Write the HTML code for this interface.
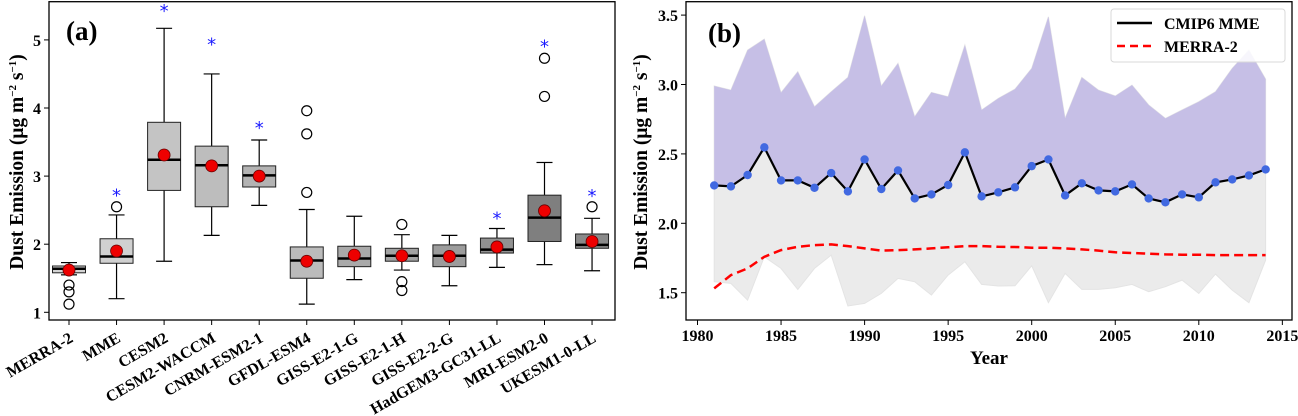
<!DOCTYPE html>
<html><head><meta charset="utf-8"><style>
html,body{margin:0;padding:0;background:#fff;}
svg{display:block;font-family:"Liberation Serif",serif;font-weight:bold;}
</style></head><body>
<svg id="fig" width="1298" height="416" viewBox="0 0 1298 416">
<g id="pa"></g>
<g id="pb"></g>
</svg>
<script>
// ---------- Panel (a) data ----------
const models = ["MERRA-2","MME","CESM2","CESM2-WACCM","CNRM-ESM2-1","GFDL-ESM4","GISS-E2-1-G","GISS-E2-1-H","GISS-E2-2-G","HadGEM3-GC31-LL","MRI-ESM2-0","UKESM1-0-LL"];
const whiskLo = [1.55,1.2,1.75,2.13,2.57,1.12,1.48,1.62,1.39,1.66,1.7,1.61];
const q1 = [1.58,1.72,2.79,2.55,2.84,1.5,1.67,1.75,1.67,1.87,2.04,1.94];
const medians = [1.64,1.82,3.24,3.16,3.01,1.76,1.79,1.83,1.83,1.92,2.39,1.99];
const q3 = [1.68,2.08,3.79,3.44,3.15,1.96,1.97,1.94,1.99,2.09,2.72,2.15];
const whiskHi = [1.73,2.43,5.17,4.5,3.53,2.51,2.41,2.14,2.13,2.23,3.2,2.38];
const means = [1.62,1.9,3.31,3.15,3.0,1.75,1.84,1.83,1.82,1.96,2.49,2.04];
const outliers = [[1.4,1.3,1.12],[2.55],[],[],[],[2.76,3.62,3.96],[],[2.29,1.45,1.32],[],[],[4.17,4.73],[2.55]];
const stars = [null,2.76,5.47,4.98,3.75,null,null,null,null,2.42,4.95,2.75];
const boxFill = ["#d4d4d4","#d0d0d0","#c4c4c4","#bdbdbd","#b3b3b3","#bbbbbb","#a9a9a9","#a2a2a2","#9c9c9c","#919191","#7f7f7f","#8a8a8a"];
const yTicksA = [1,2,3,4,5];

// ---------- Panel (b) data ----------
const years = [1981,1982,1983,1984,1985,1986,1987,1988,1989,1990,1991,1992,1993,1994,1995,1996,1997,1998,1999,2000,2001,2002,2003,2004,2005,2006,2007,2008,2009,2010,2011,2012,2013,2014];
const mme = [2.273,2.266,2.348,2.547,2.309,2.309,2.256,2.362,2.23,2.46,2.247,2.381,2.179,2.208,2.276,2.511,2.194,2.223,2.259,2.412,2.46,2.201,2.288,2.237,2.23,2.28,2.179,2.151,2.208,2.187,2.295,2.316,2.345,2.388];
const upper = [2.989,2.96,3.248,3.327,2.941,3.092,2.84,2.948,3.051,3.495,2.989,3.152,2.768,2.943,2.912,3.284,2.816,2.9,2.967,3.116,3.488,2.756,3.051,2.96,2.917,2.996,2.852,2.756,2.816,2.876,2.948,3.116,3.248,3.039];
const lower = [1.579,1.567,1.447,1.759,1.675,1.524,1.675,1.771,1.404,1.423,1.495,1.603,1.579,1.483,1.627,1.723,1.56,1.548,1.55,1.694,1.428,1.639,1.524,1.524,1.536,1.56,1.507,1.543,1.591,1.495,1.634,1.519,1.428,1.735];
const merra = [1.531,1.627,1.675,1.759,1.807,1.831,1.843,1.848,1.836,1.819,1.803,1.807,1.812,1.819,1.827,1.836,1.836,1.831,1.829,1.824,1.824,1.819,1.812,1.803,1.791,1.786,1.781,1.776,1.774,1.774,1.771,1.771,1.771,1.771];
const yTicksB = [1.5,2.0,2.5,3.0,3.5];
const xTicksB = [1980,1985,1990,1995,2000,2005,2010,2015];

const NS="http://www.w3.org/2000/svg";
function mk(parent,tag,attrs,text){const e=document.createElementNS(NS,tag);for(const k in attrs)e.setAttribute(k,attrs[k]);if(text!==undefined)e.textContent=text;parent.appendChild(e);return e;}
const TITLE='Dust Emission (μg m<tspan dy="-7" font-size="11">−2</tspan><tspan dy="7"> s</tspan><tspan dy="-7" font-size="11">−1</tspan><tspan dy="7">)</tspan>';

// ===== Panel A =====
const pa=document.getElementById('pa');
const AX0=49,AX1=615,AY0=1.7,AY1=320;
const ya=v=>312.3-(v-1)*68.1;
const xa=i=>69+i*47.55;
const bw=33;
yTicksA.forEach(t=>{
  const l=mk(pa,'line',{x1:AX0-5,x2:AX0,y1:ya(t),y2:ya(t),stroke:'#000','stroke-width':1});
  
  const tx=mk(pa,'text',{x:AX0-8,y:ya(t)+6,'text-anchor':'end','font-size':16},String(t));
  
});
models.forEach((m,i)=>{
  const g=mk(pa,'g',{});
  
  
  const cx=xa(i);
  mk(g,'line',{x1:cx,x2:cx,y1:ya(whiskHi[i]),y2:ya(q3[i]),stroke:'#000','stroke-width':1.2});
  mk(g,'line',{x1:cx,x2:cx,y1:ya(q1[i]),y2:ya(whiskLo[i]),stroke:'#000','stroke-width':1.2});
  mk(g,'line',{x1:cx-8,x2:cx+8,y1:ya(whiskHi[i]),y2:ya(whiskHi[i]),stroke:'#000','stroke-width':1.2});
  mk(g,'line',{x1:cx-8,x2:cx+8,y1:ya(whiskLo[i]),y2:ya(whiskLo[i]),stroke:'#000','stroke-width':1.2});
  mk(g,'rect',{x:cx-bw/2,y:ya(q3[i]),width:bw,height:ya(q1[i])-ya(q3[i]),fill:boxFill[i],stroke:'#222','stroke-width':1});
  mk(g,'line',{x1:cx-bw/2,x2:cx+bw/2,y1:ya(medians[i]),y2:ya(medians[i]),stroke:'#000','stroke-width':2.5});
  mk(g,'circle',{cx:cx,cy:ya(means[i]),r:6,fill:'#ee0000',stroke:'#600','stroke-width':0.8});
  outliers[i].forEach(o=>{
    const c=mk(g,'circle',{cx:cx,cy:ya(o),r:5,fill:'none',stroke:'#000','stroke-width':1.2});
    
  });
  if(stars[i]!==null){
    const s=mk(g,'text',{x:cx,y:ya(stars[i])+9,'text-anchor':'middle','font-size':18,fill:'#1a1aff','font-family':'"DejaVu Sans",sans-serif','font-weight':'normal'},'*');
    
  }
  const t=mk(pa,'line',{x1:cx,x2:cx,y1:AY1,y2:AY1+5,stroke:'#000','stroke-width':1});
  
  const lx=cx+5, ly=AY1+21;
  const lb=mk(pa,'text',{x:lx,y:ly,'text-anchor':'end','font-size':16,transform:`rotate(-30 ${lx} ${ly})`},m);
  
});
const fa=mk(pa,'rect',{x:AX0,y:AY0,width:AX1-AX0,height:AY1-AY0,fill:'none',stroke:'#000','stroke-width':1.3});

const la=mk(pa,'text',{x:66,y:40,'font-size':27},'(a)');

const yla=mk(pa,'text',{x:23,y:162,'text-anchor':'middle','font-size':19.5,transform:'rotate(-90 23 162)'});

yla.innerHTML=TITLE;

// ===== Panel B =====
const pb=document.getElementById('pb');
const BX0=686,BX1=1293,BY0=1.7,BY1=320;
const xb=y=>697.5+(y-1980)*16.71;
const yb=v=>292.7-(v-1.5)*138.8;
const poly=(xs,ys)=>xs.map((x,i)=>xb(x).toFixed(1)+','+yb(ys[i]).toFixed(1));
const ylb=mk(pb,'text',{x:647,y:162,'text-anchor':'middle','font-size':19.5,transform:'rotate(-90 647 162)'});

ylb.innerHTML=TITLE;
const gray=mk(pb,'polygon',{points:poly(years,upper).concat(poly(years,lower).reverse()).join(' '),fill:'#ebebeb',stroke:'#e4e4e4','stroke-width':1});

const purp=mk(pb,'polygon',{points:poly(years,upper).concat(poly(years,mme).reverse()).join(' '),fill:'#c6bfe6',stroke:'none'});

const ml=mk(pb,'polyline',{points:poly(years,merra).join(' '),fill:'none',stroke:'#ff0000','stroke-width':2.5,'stroke-dasharray':'9,5'});

const mm=mk(pb,'polyline',{points:poly(years,mme).join(' '),fill:'none',stroke:'#000','stroke-width':2.2});

years.forEach((y,i)=>{
  const c=mk(pb,'circle',{cx:xb(y),cy:yb(mme[i]),r:4.2,fill:'#4169e1'});
  
});
yTicksB.forEach(t=>{
  const l=mk(pb,'line',{x1:BX0-5,x2:BX0,y1:yb(t),y2:yb(t),stroke:'#000','stroke-width':1});
  
  const tx=mk(pb,'text',{x:BX0-8,y:yb(t)+6,'text-anchor':'end','font-size':16},t.toFixed(1));
  
});
xTicksB.forEach(t=>{
  const l=mk(pb,'line',{x1:xb(t),x2:xb(t),y1:BY1,y2:BY1+5,stroke:'#000','stroke-width':1});
  
  const tx=mk(pb,'text',{x:xb(t),y:BY1+21,'text-anchor':'middle','font-size':16},String(t));
  
});
const fb=mk(pb,'rect',{x:BX0,y:BY0,width:BX1-BX0-1,height:BY1-BY0,fill:'none',stroke:'#000','stroke-width':1.3});

const lbb=mk(pb,'text',{x:708,y:42,'font-size':27},'(b)');

const xt=mk(pb,'text',{x:989,y:364,'text-anchor':'middle','font-size':19},'Year');

// legend
const lg=mk(pb,'g',{});

mk(lg,'rect',{x:1111,y:9,width:174,height:53,rx:3,fill:'#fff','fill-opacity':0.85,stroke:'#d8d8d8','stroke-width':1});
mk(lg,'line',{x1:1117,x2:1152,y1:23,y2:23,stroke:'#000','stroke-width':2.5});
mk(lg,'text',{x:1164,y:29,'font-size':16},'CMIP6 MME');
mk(lg,'line',{x1:1117,x2:1152,y1:46,y2:46,stroke:'#ff0000','stroke-width':2.5,'stroke-dasharray':'8,5'});
mk(lg,'text',{x:1164,y:52,'font-size':16},'MERRA-2');
</script>
</body></html>
